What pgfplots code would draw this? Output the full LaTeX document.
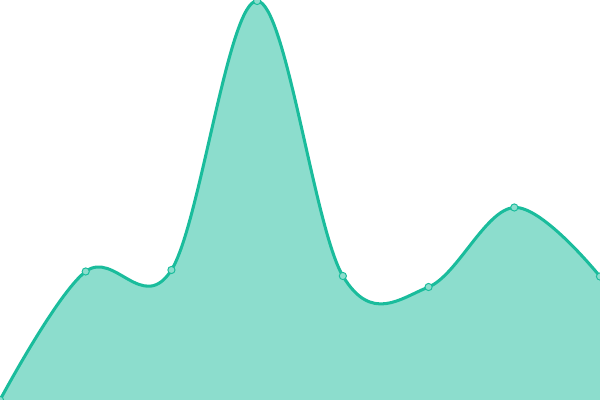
\documentclass[border=0pt]{standalone}
\usepackage{pgfplots}
\pgfplotsset{compat=1.18}
\definecolor{teal1}{HTML}{1ABC9C}

\begin{document}
\begin{tikzpicture}
\begin{axis}[
    scale only axis,
    width=6in,
    height=4in,
    xmin=0, xmax=7,
    ymin=0, ymax=400,
    hide axis,
    clip mode=global,
]
\addplot+[draw=none, fill=teal1, fill opacity=0.5, mark=none, smooth, tension=0.6] coordinates {
    (0,0) (1,128.5) (2,130) (3,399) (4,124) (5,113) (6,192.5) (7,123.5)
} \closedcycle;
\addplot+[teal1, line width=2.2pt, smooth, tension=0.6, mark=*, mark size=2.6pt,
    mark options={solid, draw=teal1, line width=0.7pt, fill=teal1!50}] coordinates {
    (0,0) (1,128.5) (2,130) (3,399) (4,124) (5,113) (6,192.5) (7,123.5)
};
\end{axis}
\pgfresetboundingbox
\path (current axis.south west) rectangle (current axis.north east);
\end{tikzpicture}
\end{document}
